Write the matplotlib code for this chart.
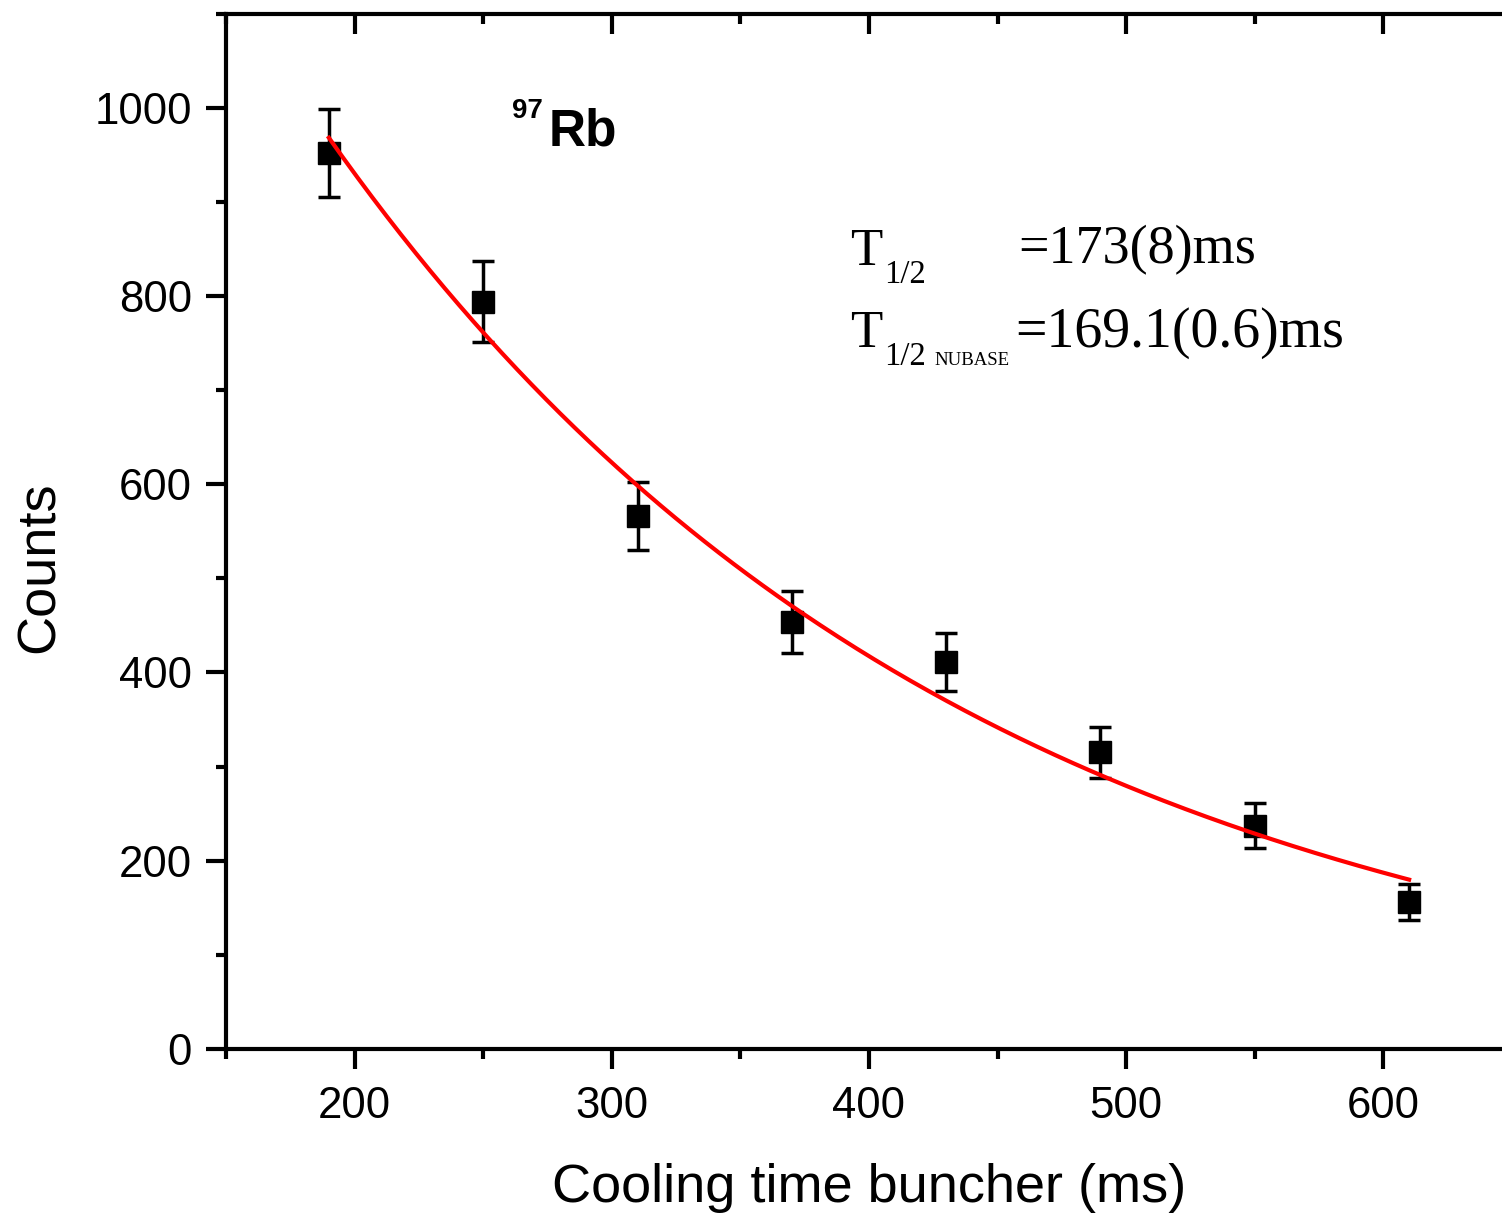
import matplotlib
matplotlib.use("Agg")
import matplotlib.pyplot as plt
import numpy as np
from matplotlib.ticker import MultipleLocator

cooling_time = [190, 250, 310, 370, 430, 490, 550, 610]
counts = [952, 794, 566, 454, 411, 315, 237, 156]
counts_err = [47, 43, 36, 33, 31, 27, 24, 19]

# exponential decay fit, N = N0 * 2^(-(t - t0) / T_half)
fit_t0 = 190
fit_t1 = 610
fit_n0 = 968
fit_half_life = 173.0

W, H = 1502, 1213
plt.rcParams["font.family"] = ["Liberation Sans", "DejaVu Sans"]

fig = plt.figure(figsize=(W / 100, H / 100), dpi=100)
ax = fig.add_axes([226 / W, 1 - 1049 / H, (1512 - 226) / W, (1049 - 13.5) / H])

ax.errorbar(cooling_time, counts, yerr=counts_err, fmt="s", color="black",
            ms=15.8, elinewidth=2.5, capsize=8, capthick=2.5, zorder=3)

t = np.linspace(fit_t0, fit_t1, 300)
ax.plot(t, fit_n0 * 2 ** (-(t - fit_t0) / fit_half_life), color="#ff0000",
        lw=3, zorder=4)

ax.set_xlim(150, 650)
ax.set_ylim(0, 1100)
ax.xaxis.set_major_locator(MultipleLocator(100))
ax.xaxis.set_minor_locator(MultipleLocator(50))
ax.yaxis.set_major_locator(MultipleLocator(200))
ax.yaxis.set_minor_locator(MultipleLocator(100))

for s in ax.spines.values():
    s.set_linewidth(3)
ax.tick_params(which="both", width=3, labelsize=31.5)
ax.tick_params(which="major", length=14.4)
ax.tick_params(which="minor", length=7.2)
ax.tick_params(axis="x", which="both", top=True, pad=12)
ax.tick_params(axis="y", which="both", right=True, pad=10)
# outward on bottom/left, inward on top/right
ax.xaxis.set_tick_params(which="both", direction="out")
ax.yaxis.set_tick_params(which="both", direction="out")
for tk in ax.xaxis.get_major_ticks() + ax.xaxis.get_minor_ticks():
    tk.tick2line.set_marker(3)
for tk in ax.yaxis.get_major_ticks() + ax.yaxis.get_minor_ticks():
    tk.tick2line.set_marker(1)

ax.set_xlabel("Cooling time buncher (ms)", fontsize=39)
ax.set_ylabel("Counts", fontsize=39, va="center")
ax.xaxis.set_label_coords(0.5, -0.11)
ax.yaxis.set_label_coords(-0.1445, 0.4655)


def px(x, y):
    return x / W, 1 - y / H


def put(x, y, s, **kw):
    fig.text(*px(x, y), s, transform=fig.transFigure, ha="left",
             va="baseline", **kw)


put(512, 118, "97", fontsize=20, fontweight="bold")
put(549, 145, "Rb", fontsize=37, fontweight="bold")

serif = ["Liberation Serif", "DejaVu Serif"]
put(850, 265, "T", fontsize=38, family=serif)
put(884, 283, "1/2", fontsize=23.5, family=serif)
put(1018, 263, "=173(8)ms", fontsize=39, family=serif)
put(850, 347, "T", fontsize=38, family=serif)
put(884, 365, "1/2", fontsize=23.5, family=serif)
put(934, 365, "NUBASE", fontsize=13.5, family=serif)
put(1015, 347, "=169.1(0.6)ms", fontsize=40.2, family=serif)

fig.savefig("out.png", dpi=100)
